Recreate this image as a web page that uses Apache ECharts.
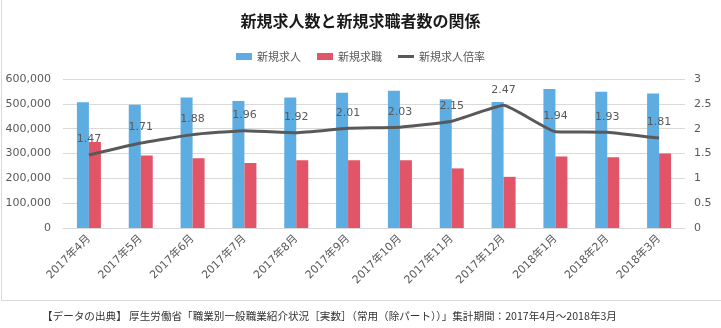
<!DOCTYPE html>
<html><head><meta charset="utf-8">
<script src="https://cdn.jsdelivr.net/npm/echarts@6/dist/echarts.min.js"></script>
<style>html,body{margin:0;padding:0;background:#fff}#c{width:721px;height:328px}</style>
</head><body><div id="c"></div>
<script>
var categories = ['2017年4月','2017年5月','2017年6月','2017年7月','2017年8月','2017年9月','2017年10月','2017年11月','2017年12月','2018年1月','2018年2月','2018年3月'];
var jobOffers = [506000,496000,526000,511000,526000,545000,553000,518000,507000,560000,549000,542000];
var jobSeekers = [346000,292000,281000,262000,273000,273000,273000,240000,206000,288000,285000,300000];
var offerRatio = [1.47,1.71,1.88,1.96,1.92,2.01,2.03,2.15,2.47,1.94,1.93,1.81];
var seriesNames = ['新規求人','新規求職','新規求人倍率'];
var titleText = '新規求人数と新規求職者数の関係';
var footerText = '【データの出典】 厚生労働省「職業別一般職業紹介状況［実数］（常用（除パート））」集計期間：2017年4月～2018年3月';

var FONT = 'DejaVu Sans, "Noto Sans CJK JP", sans-serif';
var JP = '"Noto Sans CJK JP", sans-serif';
var chart = echarts.init(document.getElementById('c'), null, {renderer:'canvas'});
chart.setOption({
  animation:false,
  backgroundColor:'#fff',
  title:{text:titleText,left:'center',top:8,textStyle:{fontFamily:JP,fontSize:16,fontWeight:'bold',color:'#1a1a1a'}},
  legend:{
    top:46,left:'center',itemWidth:16,itemHeight:7,itemGap:16,
    textStyle:{fontFamily:JP,fontSize:11,color:'#595959'},
    data:[{name:seriesNames[0],icon:'rect'},{name:seriesNames[1],icon:'rect'},{name:seriesNames[2],icon:'path://M0,0 L16,0 L16,3 L0,3 Z'}]
  },
  grid:{left:63,right:36,top:79,bottom:100,containLabel:false},
  xAxis:{
    type:'category',data:categories,
    axisLine:{show:true,lineStyle:{color:'#d9d9d9'}},
    axisTick:{show:false},
    axisLabel:{rotate:45,margin:9,fontFamily:FONT,fontSize:11,color:'#595959',interval:0}
  },
  yAxis:[
    {type:'value',min:0,max:600000,interval:100000,
     axisLine:{show:false},axisTick:{show:false},
     splitLine:{lineStyle:{color:'#d9d9d9',width:1}},
     axisLabel:{fontFamily:FONT,fontSize:11,color:'#595959',margin:12,
       formatter:function(v){return v.toString().replace(/\B(?=(\d{3})+(?!\d))/g, ',');}}},
    {type:'value',min:0,max:3,interval:0.5,position:'right',
     axisLine:{show:false},axisTick:{show:false},splitLine:{show:false},
     axisLabel:{fontFamily:FONT,fontSize:11,color:'#595959',margin:9,align:'left'}}
  ],
  series:[
    {name:seriesNames[0],type:'bar',data:jobOffers,barWidth:12,barGap:'0%',itemStyle:{color:'#5DADE2'}},
    {name:seriesNames[1],type:'bar',data:jobSeekers,barWidth:12,barGap:'0%',itemStyle:{color:'#E25468'}},
    {name:seriesNames[2],type:'line',yAxisIndex:1,data:offerRatio,smooth:0.12,
     symbol:'circle',symbolSize:0,
     lineStyle:{color:'#595959',width:3},itemStyle:{color:'#595959'},
     label:{show:true,position:'top',distance:10,fontFamily:FONT,fontSize:11,color:'#595959',
       formatter:function(p){return p.value.toFixed(2);}}}
  ],
  graphic:[
    {type:'line',shape:{x1:1.5,y1:0,x2:1.5,y2:300},style:{stroke:'#d9d9d9',lineWidth:1}},
    {type:'line',shape:{x1:1,y1:300.5,x2:721,y2:300.5},style:{stroke:'#d9d9d9',lineWidth:1}},
    {type:'text',left:42,top:311,style:{text:footerText,font:'10.6px "Noto Sans CJK JP", sans-serif',fill:'#333'}}
  ]
});
</script></body></html>
